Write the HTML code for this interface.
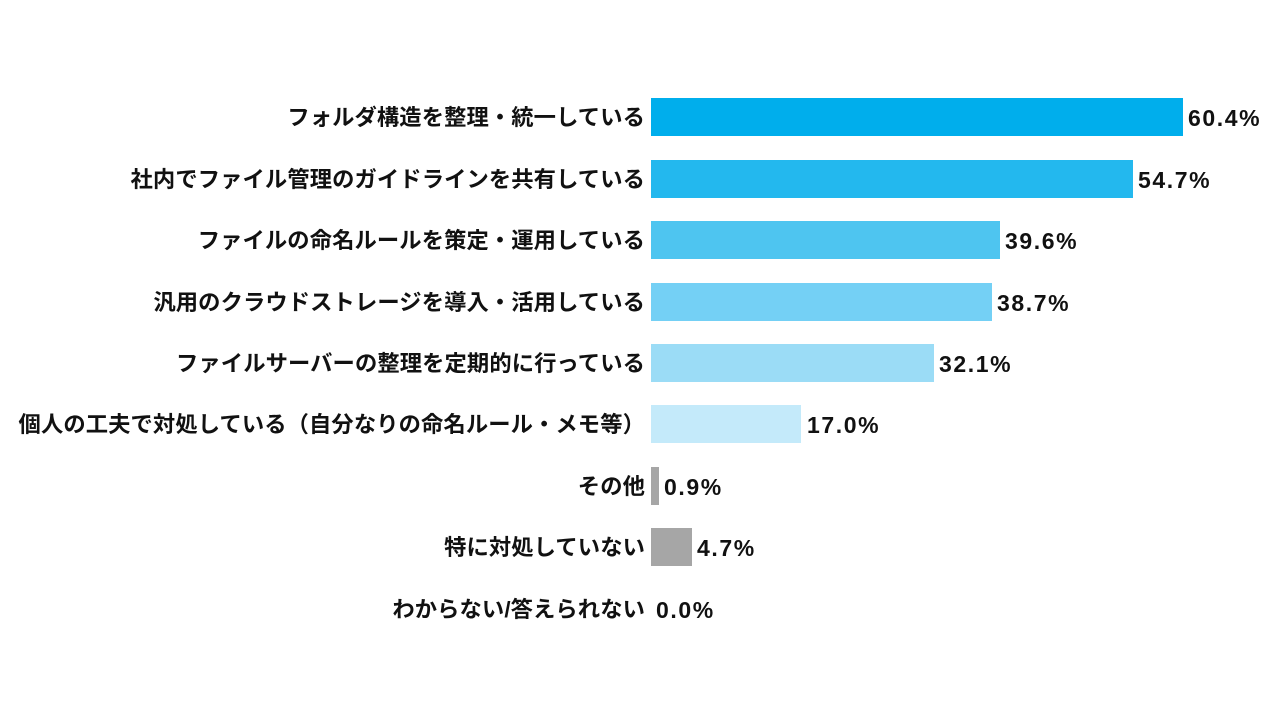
<!DOCTYPE html>
<html><head><meta charset="utf-8"><style>
body{margin:0;width:1280px;height:720px;background:#fff;position:relative;overflow:hidden;font-family:"Liberation Sans","Noto Sans CJK JP",sans-serif;font-weight:bold;color:#111}
.l{position:absolute;right:635px;height:38px;line-height:40px;font-size:22.3px;white-space:nowrap;letter-spacing:0.1px}
.b{position:absolute;left:651px;height:38px}
.v{position:absolute;height:38px;line-height:40px;font-size:23px;letter-spacing:1.6px}
</style></head><body>
<div class="l" style="top:98px">フォルダ構造を整理・統一している</div>
<div class="b" style="top:98px;width:532px;background:#00aeec"></div>
<div class="v" style="top:98px;left:1188px">60.4%</div>
<div class="l" style="top:160px">社内でファイル管理のガイドラインを共有している</div>
<div class="b" style="top:160px;width:482px;background:#23b8ee"></div>
<div class="v" style="top:160px;left:1138px">54.7%</div>
<div class="l" style="top:221px">ファイルの命名ルールを策定・運用している</div>
<div class="b" style="top:221px;width:349px;background:#4ec5f0"></div>
<div class="v" style="top:221px;left:1005px">39.6%</div>
<div class="l" style="top:283px">汎用のクラウドストレージを導入・活用している</div>
<div class="b" style="top:283px;width:341px;background:#74d0f5"></div>
<div class="v" style="top:283px;left:997px">38.7%</div>
<div class="l" style="top:344px">ファイルサーバーの整理を定期的に行っている</div>
<div class="b" style="top:344px;width:283px;background:#9bdcf6"></div>
<div class="v" style="top:344px;left:939px">32.1%</div>
<div class="l" style="top:405px">個人の工夫で対処している（自分なりの命名ルール・メモ等）</div>
<div class="b" style="top:405px;width:150px;background:#c4eafa"></div>
<div class="v" style="top:405px;left:807px">17.0%</div>
<div class="l" style="top:467px">その他</div>
<div class="b" style="top:467px;width:8px;background:#a6a6a6"></div>
<div class="v" style="top:467px;left:664px">0.9%</div>
<div class="l" style="top:528px">特に対処していない</div>
<div class="b" style="top:528px;width:41px;background:#a6a6a6"></div>
<div class="v" style="top:528px;left:697px">4.7%</div>
<div class="l" style="top:590px">わからない/答えられない</div>
<div class="v" style="top:590px;left:656px">0.0%</div>
</body></html>
